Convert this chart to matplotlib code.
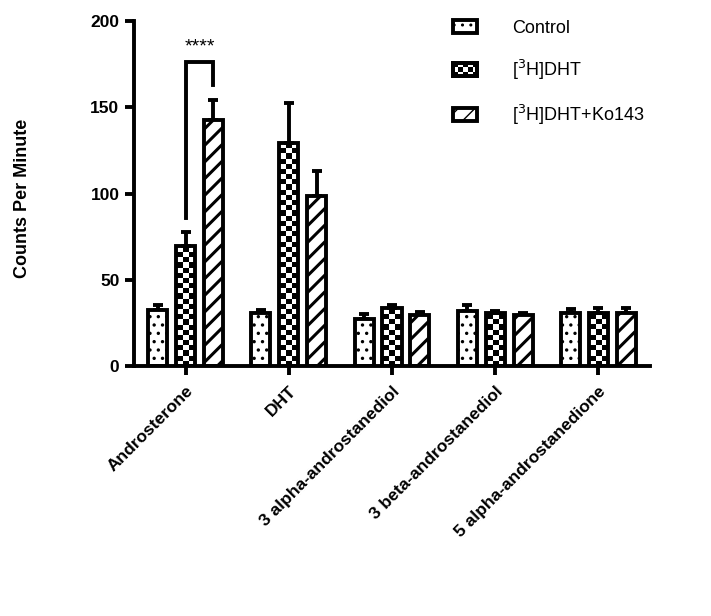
import numpy as np
import matplotlib
matplotlib.use("Agg")
import matplotlib.pyplot as plt
from matplotlib.patches import Rectangle
from matplotlib.legend_handler import HandlerBase

plt.rcParams['font.family'] = ['Liberation Sans', 'DejaVu Sans']

compounds = ['Androsterone', 'DHT', '3 alpha-androstanediol',
             '3 beta-androstanediol', '5 alpha-androstanedione']
groups = ['Control', '[$^{3}$H]DHT', '[$^{3}$H]DHT+Ko143']

control_mean = [32.5, 30.5, 27.5, 32, 30.5]
control_err = [3, 2, 2.5, 3.5, 2.5]
dht_mean = [69.5, 129, 33.5, 30.5, 31]
dht_err = [8, 23.5, 2, 1.5, 2.5]
ko_mean = [142.5, 98.5, 29.5, 29.5, 31]
ko_err = [11.5, 14.5, 2, 1.5, 2.5]

# significance bracket (Androsterone: DHT vs DHT+Ko143)
sig_left, sig_right, sig_top = 86, 163, 176
sig_text = '****'

LW = 2.8
x = np.arange(len(compounds))
off = 0.27
w = 0.185

fig = plt.figure(figsize=(7.11, 6.16), dpi=100)
ax = fig.add_axes([134 / 711, 1 - 366 / 616, 516 / 711, 345 / 616])

bars_c = ax.bar(x - off, control_mean, w, color='white', edgecolor='black',
                linewidth=LW, hatch='..', zorder=2)
bars_d = ax.bar(x, dht_mean, w, color='none', edgecolor='black',
                linewidth=LW, zorder=2)
bars_k = ax.bar(x + off, ko_mean, w, color='white', edgecolor='black',
                linewidth=LW, hatch='//', zorder=2)
for b in bars_k:
    if hasattr(b, 'set_hatch_linewidth'):
        b.set_hatch_linewidth(2.2)
for b in bars_c:
    if hasattr(b, 'set_hatch_linewidth'):
        b.set_hatch_linewidth(1.2)

# checkerboard fill for the [3H]DHT bars
ax.set_xlim(-0.5, 4.5)
ax.set_ylim(0, 200)
dy = 3.0
for b in bars_d:
    bx, bw, bh = b.get_x(), b.get_width(), b.get_height()
    ncol = 3
    nrow = int(np.ceil(bh / dy)) + 1
    cells = (np.add.outer(np.arange(nrow), np.arange(ncol)) % 2).astype(float)
    im = ax.imshow(cells, cmap='gray_r', vmin=0, vmax=1, origin='lower',
                   interpolation='nearest', aspect='auto',
                   extent=(bx, bx + bw, 0, nrow * dy), zorder=1.5)
    im.set_clip_path(b)
ax.set_xlim(-0.5, 4.5)
ax.set_ylim(0, 200)

for pos, mean, err in [(x - off, control_mean, control_err),
                       (x, dht_mean, dht_err),
                       (x + off, ko_mean, ko_err)]:
    ax.errorbar(pos, mean, yerr=[np.zeros(len(err)), err], fmt='none',
                ecolor='black', elinewidth=LW, capsize=3.5, capthick=LW,
                zorder=1.8)

ax.plot([x[0], x[0], x[0] + off, x[0] + off],
        [sig_left, sig_top, sig_top, sig_right], color='black',
        linewidth=LW, solid_joinstyle='miter', zorder=3)
ax.text(x[0] + off / 2, 180, sig_text, ha='center', va='bottom',
        fontsize=14)

for s in ['top', 'right']:
    ax.spines[s].set_visible(False)
for s in ['left', 'bottom']:
    ax.spines[s].set_linewidth(LW)

ax.set_yticks([0, 50, 100, 150, 200])
ax.tick_params(axis='both', width=LW, length=6.5, labelsize=12.5)
ax.tick_params(axis='y', pad=4)
ax.tick_params(axis='x', pad=6)
for lab in ax.get_yticklabels():
    lab.set_fontweight('bold')
ax.set_xticks(x)
ax.set_xticklabels(compounds, rotation=45, ha='right',
                   rotation_mode='anchor', fontweight='bold', fontsize=12.5)
ax.set_ylabel('Counts Per Minute', fontsize=13, fontweight='bold')
ax.yaxis.set_label_coords((31 - 134) / 516, 0.485)


class CheckerHandler(HandlerBase):
    def create_artists(self, legend, orig_handle, xdescent, ydescent,
                       width, height, fontsize, trans):
        arts = [Rectangle((-xdescent, -ydescent), width, height,
                          facecolor='white', edgecolor='black',
                          linewidth=LW, transform=trans)]
        nc, nr = 5, 3
        cw, ch = width / nc, height / nr
        for i in range(nr):
            for j in range(nc):
                if (i + j) % 2 == 0:
                    arts.append(Rectangle((-xdescent + j * cw,
                                           -ydescent + i * ch), cw, ch,
                                          facecolor='black', linewidth=0,
                                          transform=trans))
        arts.append(Rectangle((-xdescent, -ydescent), width, height,
                              facecolor='none', edgecolor='black',
                              linewidth=LW, transform=trans))
        return arts


h_c = Rectangle((0, 0), 1, 1, facecolor='white', edgecolor='black',
                linewidth=LW, hatch='..')
h_d = Rectangle((0, 0), 1, 1, facecolor='white', edgecolor='black',
                linewidth=LW)
h_k = Rectangle((0, 0), 1, 1, facecolor='white', edgecolor='black',
                linewidth=LW, hatch='//')
fig.legend([h_c, h_d, h_k], groups, loc='upper left',
           bbox_to_anchor=(453 / 711, 1 - 20 / 616), frameon=False,
           fontsize=13, handlelength=1.35, handleheight=0.75,
           handletextpad=1.9, labelspacing=1.15, borderpad=0,
           borderaxespad=0, handler_map={h_d: CheckerHandler()})

fig.savefig('out.png', dpi=100)
